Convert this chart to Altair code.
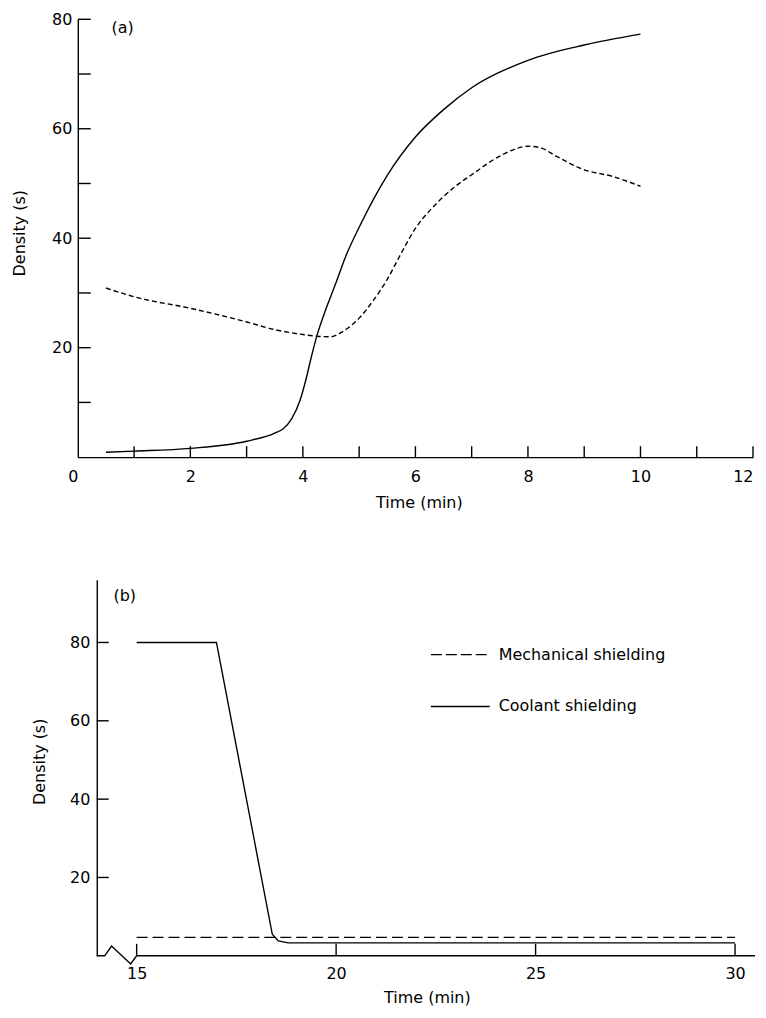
import altair as alt
import pandas as pd

FONT = "DejaVu Sans"

# ---------------- Panel (a) data ----------------
a_solid_time = [0.5, 1, 2, 3, 3.5, 3.65, 3.8, 3.95, 4.05, 4.15, 4.25, 4.4, 4.5, 4.6, 4.75, 5, 5.5, 6, 6.5, 7, 8, 9, 10]
a_solid_density = [0.9, 1.1, 1.6, 2.9, 4.4, 5.2, 7, 10.4, 14, 18.3, 22.2, 26.8, 29.5, 32.2, 36.4, 42, 51.5, 58.5, 63.5, 67.5, 72.5, 75.3, 77.3]
a_dashed_time = [0.5, 1, 2, 3, 3.5, 4, 4.25, 4.5, 4.7, 5, 5.25, 5.5, 5.75, 6, 6.25, 6.5, 6.75, 7, 7.5, 8, 8.2, 8.5, 9, 9.5, 10]
a_dashed_density = [30.9, 29.3, 27.2, 24.7, 23.3, 22.4, 22.1, 22.0, 22.9, 25.4, 28.6, 32.5, 37.3, 41.8, 45.0, 47.6, 49.8, 51.6, 55, 56.8, 56.6, 55, 52.5, 51.3, 49.5]
a_x_labels = [0, 2, 4, 6, 8, 10, 12]
a_x_ticks = [1, 2, 3, 4, 5, 6, 7, 8, 9, 10, 11, 12]
a_y_labels = [20, 40, 60, 80]
a_y_ticks = [10, 20, 30, 40, 50, 60, 70, 80]

# ---------------- Panel (b) data ----------------
b_coolant_time = [15, 17.0, 18.4, 18.55, 18.8, 30]
b_coolant_density = [80, 80, 5.5, 3.8, 3.3, 3.3]
b_mech_time = [15, 30]
b_mech_density = [4.7, 4.7]
b_x_labels = [15, 20, 25, 30]
b_y_labels = [20, 40, 60, 80]
b_axis_break_time = [14.0, 14.2, 14.37, 14.85, 15.0, 30.5]
b_axis_break_density = [0, 0, 2.5, -2.1, 0, 0]
legend_labels = ["Mechanical shielding", "Coolant shielding"]

W1, H1 = 677, 439
W2, H2 = 679, 377
LW = 1.4

xa = alt.Scale(domain=[0, 12], nice=False, zero=False)
ya = alt.Scale(domain=[0, 80], nice=False)
xa_axis = alt.Axis(values=a_x_labels, ticks=False, grid=False, labelPadding=11,
                   labelAlign={"expr": "datum.value == 0 || datum.value == 12 ? 'right' : 'center'"},
                   title="Time (min)", titleX=342, titleY=46, titleBaseline="middle")
ya_axis = alt.Axis(values=a_y_labels, ticks=False, grid=False, labelPadding=6,
                   title="Density (s)", titleX=-58, titleY=214, titleBaseline="middle")


def XA(field):
    return alt.X(field, scale=xa, axis=xa_axis, title="Time (min)")


def YA(field):
    return alt.Y(field, scale=ya, axis=ya_axis, title="Density (s)")


solid_a = alt.Chart(pd.DataFrame({"t": a_solid_time, "d": a_solid_density})).mark_line(
    color="black", strokeWidth=LW, interpolate="monotone"
).encode(x=XA("t:Q"), y=YA("d:Q"))

dashed_a = alt.Chart(pd.DataFrame({"t": a_dashed_time, "d": a_dashed_density})).mark_line(
    color="black", strokeWidth=LW, interpolate="monotone", strokeDash=[5, 3]
).encode(x=XA("t:Q"), y=YA("d:Q"))

xt_a = alt.Chart(pd.DataFrame({"t": a_x_ticks})).mark_rule(color="black", strokeWidth=LW).encode(
    x=XA("t:Q"), y=alt.value(H1), y2=alt.value(H1 - 11))
yt_a = alt.Chart(pd.DataFrame({"d": a_y_ticks})).mark_rule(color="black", strokeWidth=LW).encode(
    y=YA("d:Q"), x=alt.value(0), x2=alt.value(13))

lab_a = alt.Chart(pd.DataFrame({"label": ["(a)"]})).mark_text(
    font=FONT, fontSize=16, align="center", baseline="middle", color="black"
).encode(x=alt.value(45), y=alt.value(9), text="label:N")

top = alt.layer(solid_a, dashed_a, xt_a, yt_a, lab_a).properties(width=W1, height=H1)

# ---------------- Panel (b) ----------------
xb = alt.Scale(domain=[13.525, 30.5], nice=False, zero=False)
yb = alt.Scale(domain=[0, 96], nice=False)
xb_axis = alt.Axis(values=b_x_labels, ticks=False, grid=False, domain=False, labelPadding=10,
                   title="Time (min)", titleX=350, titleY=42, titleBaseline="middle")
yb_axis = alt.Axis(values=b_y_labels, ticks=False, grid=False, offset=-19, labelPadding=7,
                   title="Density (s)", titleX=-57, titleY=182, titleBaseline="middle")


def XB(field):
    return alt.X(field, scale=xb, axis=xb_axis, title="Time (min)")


def YB(field):
    return alt.Y(field, scale=yb, axis=yb_axis, title="Density (s)")


coolant = alt.Chart(pd.DataFrame({"t": b_coolant_time, "d": b_coolant_density})).mark_line(
    color="black", strokeWidth=LW
).encode(x=XB("t:Q"), y=YB("d:Q"))

mech = alt.Chart(pd.DataFrame({"t": b_mech_time, "d": b_mech_density})).mark_line(
    color="black", strokeWidth=LW, strokeDash=[11, 5]
).encode(x=XB("t:Q"), y=YB("d:Q"))

baseline_b = alt.Chart(pd.DataFrame({"t": b_axis_break_time, "d": b_axis_break_density})).mark_line(
    color="black", strokeWidth=LW
).encode(x=XB("t:Q"), y=YB("d:Q"))

xt_b = alt.Chart(pd.DataFrame({"t": b_x_labels})).mark_rule(color="black", strokeWidth=LW).encode(
    x=XB("t:Q"), y=alt.value(H2), y2=alt.value(H2 - 12))
yt_b = alt.Chart(pd.DataFrame({"d": b_y_labels})).mark_rule(color="black", strokeWidth=LW).encode(
    y=YB("d:Q"), x=alt.value(19), x2=alt.value(31))

lab_b = alt.Chart(pd.DataFrame({"label": ["(b)"]})).mark_text(
    font=FONT, fontSize=16, align="center", baseline="middle", color="black"
).encode(x=alt.value(47), y=alt.value(16), text="label:N")

leg_mech_line = alt.Chart(pd.DataFrame({"label": [legend_labels[0]]})).mark_rule(
    color="black", strokeWidth=LW, strokeDash=[11, 4]
).encode(x=alt.value(354), x2=alt.value(413), y=alt.value(75))
leg_mech_text = alt.Chart(pd.DataFrame({"label": [legend_labels[0]]})).mark_text(
    font=FONT, fontSize=16, align="left", baseline="middle", color="black"
).encode(x=alt.value(422), y=alt.value(75), text="label:N")
leg_cool_line = alt.Chart(pd.DataFrame({"label": [legend_labels[1]]})).mark_rule(
    color="black", strokeWidth=LW
).encode(x=alt.value(354), x2=alt.value(413), y=alt.value(127))
leg_cool_text = alt.Chart(pd.DataFrame({"label": [legend_labels[1]]})).mark_text(
    font=FONT, fontSize=16, align="left", baseline="middle", color="black"
).encode(x=alt.value(422), y=alt.value(127), text="label:N")

bottom = alt.layer(
    coolant, mech, baseline_b, xt_b, yt_b, lab_b,
    leg_mech_line, leg_mech_text, leg_cool_line, leg_cool_text
).properties(width=W2, height=H2)

chart = alt.vconcat(top, bottom, spacing=69).properties(
    padding={"left": 4, "top": 2, "right": 0, "bottom": 0}
).configure_view(stroke=None).configure_axis(
    labelFont=FONT, titleFont=FONT, labelFontSize=16, titleFontSize=16,
    labelColor="black", titleColor="black", titleFontWeight="normal",
    domainColor="black", domainWidth=LW,
)

chart.save("out.html", embed_options={"renderer": "svg", "actions": False})
